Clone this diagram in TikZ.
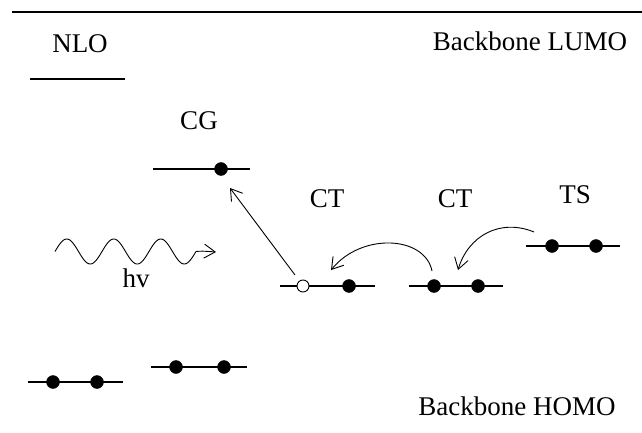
\documentclass[tikz,border=0pt]{standalone}
\usepackage{fontspec}
\setmainfont{Liberation Serif}
\usetikzlibrary{arrows.meta}
\begin{document}
\begin{tikzpicture}[x=1pt,y=-1pt,
  lbl/.style={anchor=base,inner sep=0pt,font=\fontsize{27}{30}\selectfont},
  level/.style={line width=2pt},
  el/.style={circle,fill=black,draw=black,minimum size=13pt,inner sep=0pt},
  hole/.style={circle,fill=white,draw=black,line width=0.9pt,minimum size=12pt,inner sep=0pt},
  arr/.style={line width=0.9pt,-{Straight Barb[length=11pt,width=14pt,line width=0.9pt]}}]
\useasboundingbox (0,0) rectangle (642,433);
% top rule
\draw[line width=2.5pt] (12,12) -- (642,12);
% labels
\node[lbl] (nlo) at (80,53) {NLO};
\node[lbl] (lumo) at (530,51) {Backbone LUMO};
\node[lbl] (homo) at (517,415) {Backbone HOMO};
\node[lbl] (cg) at (199,130) {CG};
\node[lbl] (ct1) at (327,207) {CT};
\node[lbl] (ct2) at (455,207) {CT};
\node[lbl] (ts) at (575,203) {TS};
\node[lbl] (hv) at (136,287) {hv};
% NLO level
\draw[level] (30,79) -- (125,79);
% CG level
\draw[level] (153,169) -- (250,169);
\node[el] (cge) at (221,169) {};
% CT1 level
\draw[level] (280,286) -- (375,286);
\node[hole] (h1) at (303,286) {};
\node[el] (c1b) at (349,286) {};
% CT2 level
\draw[level] (409,286) -- (503,286);
\node[el] (c2a) at (434,286) {};
\node[el] (c2b) at (478,286) {};
% TS level
\draw[level] (526,246) -- (620,246);
\node[el] (tsa) at (552,246) {};
\node[el] (tsb) at (596,246) {};
% bottom levels
\draw[level] (28,382) -- (123,382);
\node[el] (b1a) at (53,382) {};
\node[el] (b1b) at (97,382) {};
\draw[level] (151,367) -- (247,367);
\node[el] (b2a) at (176,367) {};
\node[el] (b2b) at (224,367) {};
% photon
\coordinate (wtip) at (216,252);
\draw[line width=0.9pt,line join=round] plot[domain=55:196,samples=120,smooth] (\x,{251.5-12.5*sin((\x-55)/47*360)});
\draw[arr] (196,251.5) .. controls (202,251) .. (wtip);
% excitation arrow
\coordinate (exs) at (295,275);
\coordinate (exe) at (230,188);
\draw[arr] (exs) -- (exe);
% CT arrows
\coordinate (a1s) at (432,271);
\coordinate (a1e) at (331,270);
\draw[arr] (a1s) .. controls (425,236) and (362,232) .. (a1e);
\coordinate (a2s) at (534,232);
\coordinate (a2e) at (458,270);
\draw[arr] (a2s) .. controls (500,218) and (468,236) .. (a2e);
\end{tikzpicture}
\end{document}
